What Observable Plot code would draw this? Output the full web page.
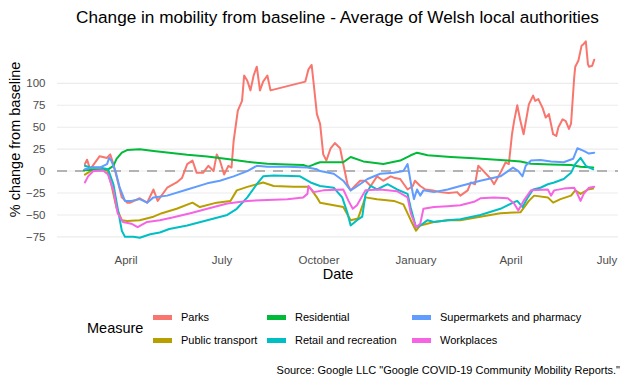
<!DOCTYPE html>
<html>
<head>
<meta charset="utf-8">
<script src="https://cdn.jsdelivr.net/npm/d3@7"></script>
<script src="https://cdn.jsdelivr.net/npm/@observablehq/plot@0.6"></script>
<style>
  html, body { margin: 0; padding: 0; background: #fff; }
  body { font-family: "Liberation Sans", Arial, sans-serif; }
  #wrap { position: relative; width: 626px; height: 384px; overflow: hidden; }
  .abs { position: absolute; white-space: nowrap; }
  #title { left: 57px; width: 561px; top: 8px; text-align: center; font-size: 17.2px; line-height: 18px; color: #000; }
  #chart { left: 0; top: 30px; }
  .lgtitle { font-size: 14.5px; line-height: 16px; color: #000; }
  .lglab { font-size: 11px; line-height: 12px; color: #000; }
  .sw { position: absolute; width: 19px; height: 5px; }
  #caption { right: 6px; top: 364px; font-size: 11px; line-height: 12px; color: #000; }
</style>
</head>
<body>
<div id="wrap">
  <div id="title" class="abs">Change in mobility from baseline - Average of Welsh local authorities</div>
  <div id="chart" class="abs"></div>
  <div id="legend"></div>
  <div id="caption" class="abs">Source: Google LLC "Google COVID-19 Community Mobility Reports."</div>
</div>
<script>
const measures = ["Parks", "Public transport", "Residential", "Retail and recreation", "Supermarkets and pharmacy", "Workplaces"];
const colors = ["#F8766D", "#B79F00", "#00BA38", "#00BFC4", "#619CFF", "#F564E3"];
const yTicks = [-75, -50, -25, 0, 25, 50, 75, 100];
const xTicks = ["2020-04-01", "2020-07-01", "2020-10-01", "2021-01-01", "2021-04-01", "2021-07-01"];

const parks = [["2020-02-22",8],["2020-02-24",13],["2020-02-27",2],["2020-03-07",17],["2020-03-14",15],["2020-03-17",19],["2020-03-20",8],["2020-03-24",-11],["2020-03-28",-30],["2020-04-02",-36],["2020-04-05",-36],["2020-04-14",-31],["2020-04-21",-36],["2020-04-27",-21],["2020-05-01",-34],["2020-05-10",-19],["2020-05-19",-13],["2020-05-24",-8],["2020-05-29",8],["2020-06-03",12],["2020-06-07",-2],["2020-06-13",-2],["2020-06-18",6],["2020-06-23",0],["2020-06-26",19],["2020-06-29",12],["2020-07-03",-4],["2020-07-07",6],["2020-07-10",4],["2020-07-12",34],["2020-07-16",69],["2020-07-20",80],["2020-07-22",109],["2020-07-25",103],["2020-07-28",92],["2020-07-31",109],["2020-08-03",119],["2020-08-06",92],["2020-08-09",102],["2020-08-13",109],["2020-08-16",92],["2020-09-18",102],["2020-09-21",116],["2020-09-24",121],["2020-09-26",99],["2020-09-29",65],["2020-10-02",54],["2020-10-05",19],["2020-10-08",12],["2020-10-12",26],["2020-10-16",32],["2020-10-21",26],["2020-10-24",8],["2020-10-28",-15],["2020-10-31",-22],["2020-11-04",-17],["2020-11-09",-11],["2020-11-14",-11],["2020-11-19",-17],["2020-11-25",-6],["2020-12-01",-11],["2020-12-08",-6],["2020-12-12",-8],["2020-12-17",-9],["2020-12-24",-21],["2020-12-29",-17],["2020-12-31",-11],["2021-01-05",-17],["2021-01-10",-21],["2021-01-17",-22],["2021-01-24",-24],["2021-02-01",-25],["2021-02-09",-24],["2021-02-12",-28],["2021-02-19",-22],["2021-02-22",-13],["2021-02-26",-15],["2021-03-01",6],["2021-03-06",0],["2021-03-13",-9],["2021-03-16",-15],["2021-03-22",-2],["2021-03-27",10],["2021-03-30",8],["2021-04-02",42],["2021-04-04",57],["2021-04-07",75],["2021-04-10",57],["2021-04-13",42],["2021-04-18",76],["2021-04-22",86],["2021-04-24",80],["2021-04-27",82],["2021-05-01",72],["2021-05-04",61],["2021-05-07",65],["2021-05-11",42],["2021-05-14",40],["2021-05-16",50],["2021-05-20",59],["2021-05-23",57],["2021-05-26",48],["2021-05-28",54],["2021-05-31",107],["2021-06-01",119],["2021-06-04",126],["2021-06-07",143],["2021-06-09",145],["2021-06-11",148],["2021-06-13",122],["2021-06-14",119],["2021-06-17",120],["2021-06-19",127]];

const publicTransport = [["2020-02-22",-4],["2020-03-01",2],["2020-03-14",1],["2020-03-18",-15],["2020-03-23",-42],["2020-03-28",-56],["2020-04-02",-57],["2020-04-14",-56],["2020-04-27",-52],["2020-05-05",-48],["2020-05-19",-43],["2020-06-03",-36],["2020-06-10",-41],["2020-06-26",-36],["2020-07-09",-34],["2020-07-15",-22],["2020-07-25",-18],["2020-08-03",-15],["2020-08-09",-13],["2020-08-19",-17],["2020-09-07",-18],["2020-09-20",-18],["2020-09-23",-20],["2020-09-29",-30],["2020-10-02",-36],["2020-10-15",-39],["2020-10-24",-41],["2020-10-31",-56],["2020-11-07",-54],["2020-11-14",-30],["2020-11-25",-32],["2020-12-11",-34],["2020-12-20",-38],["2020-12-27",-56],["2021-01-01",-68],["2021-01-05",-62],["2021-01-18",-58],["2021-01-31",-56],["2021-02-12",-56],["2021-03-03",-52],["2021-03-22",-48],["2021-04-10",-47],["2021-04-18",-34],["2021-04-23",-28],["2021-05-06",-30],["2021-05-11",-36],["2021-05-18",-32],["2021-05-28",-28],["2021-06-01",-22],["2021-06-06",-26],["2021-06-13",-21],["2021-06-18",-20]];

const residential = [["2020-02-21",1],["2020-03-15",2],["2020-03-20",6],["2020-03-23",14],["2020-03-28",21],["2020-04-02",24],["2020-04-14",25],["2020-04-27",23],["2020-05-12",21],["2020-05-29",18.6],["2020-06-17",16.7],["2020-07-06",13.7],["2020-07-25",10.6],["2020-08-13",8.3],["2020-09-01",7.6],["2020-09-16",7],["2020-09-21",5],["2020-09-27",8],["2020-10-02",10],["2020-10-24",10],["2020-10-31",16],["2020-11-12",11],["2020-12-01",8],["2020-12-17",12],["2020-12-27",18],["2021-01-02",21],["2021-01-12",18],["2021-02-03",16],["2021-02-25",14.5],["2021-03-29",12],["2021-04-10",11],["2021-04-20",8.3],["2021-05-09",7.6],["2021-05-28",7],["2021-06-06",5],["2021-06-18",4]];

const retail = [["2020-02-22",6],["2020-02-27",4],["2020-03-07",4],["2020-03-15",2],["2020-03-20",-15],["2020-03-24",-42],["2020-03-28",-68],["2020-03-31",-75],["2020-04-08",-75],["2020-04-14",-76],["2020-04-24",-72],["2020-05-03",-70],["2020-05-12",-66],["2020-05-29",-62],["2020-06-17",-56],["2020-07-06",-50],["2020-07-15",-43],["2020-07-25",-30],["2020-08-03",-15],["2020-08-09",-6],["2020-08-19",-5],["2020-09-13",-6],["2020-09-23",-13],["2020-10-02",-17],["2020-10-15",-19],["2020-10-23",-30],["2020-10-28",-48],["2020-10-31",-62],["2020-11-06",-56],["2020-11-11",-52],["2020-11-14",-27],["2020-11-19",-17],["2020-11-25",-21],["2020-12-05",-15],["2020-12-14",-21],["2020-12-24",-26],["2020-12-27",-42],["2021-01-01",-64],["2021-01-05",-62],["2021-01-12",-56],["2021-01-18",-58],["2021-01-31",-56],["2021-02-12",-55],["2021-03-03",-50],["2021-03-22",-43],["2021-04-03",-36],["2021-04-07",-34],["2021-04-12",-41],["2021-04-17",-30],["2021-04-22",-21],["2021-04-29",-19],["2021-05-06",-15],["2021-05-12",-13],["2021-05-21",-9],["2021-05-28",-2],["2021-06-01",8],["2021-06-06",15],["2021-06-11",6],["2021-06-18",2]];

const supermarkets = [["2020-02-22",2],["2020-03-01",4],["2020-03-07",4],["2020-03-14",8],["2020-03-16",15],["2020-03-18",12],["2020-03-22",0],["2020-03-26",-19],["2020-03-31",-34],["2020-04-06",-34],["2020-04-14",-32],["2020-04-21",-36],["2020-04-27",-30],["2020-05-10",-28],["2020-05-29",-21],["2020-06-17",-14],["2020-06-29",-11],["2020-07-12",-6],["2020-07-25",0],["2020-08-03",6],["2020-08-13",5],["2020-09-01",5],["2020-09-20",4],["2020-09-29",2],["2020-10-02",0],["2020-10-15",-3],["2020-10-24",-11],["2020-10-31",-22],["2020-11-04",-19],["2020-11-16",-9],["2020-11-28",-3],["2020-12-11",-2],["2020-12-20",0],["2020-12-24",8],["2020-12-27",-13],["2020-12-30",-32],["2021-01-02",-21],["2021-01-05",-28],["2021-01-08",-22],["2021-01-18",-24],["2021-01-31",-21],["2021-02-12",-17],["2021-03-03",-11],["2021-03-22",-6],["2021-04-03",4],["2021-04-08",0],["2021-04-12",-6],["2021-04-15",6],["2021-04-20",12],["2021-04-29",12.6],["2021-05-09",11],["2021-05-21",10],["2021-05-30",14],["2021-06-03",26],["2021-06-09",23],["2021-06-14",20],["2021-06-19",21]];

const workplaces = [["2020-02-22",-13],["2020-02-25",-6],["2020-03-01",0],["2020-03-10",1],["2020-03-15",-4],["2020-03-20",-22],["2020-03-24",-48],["2020-03-29",-58],["2020-04-06",-60],["2020-04-12",-64],["2020-04-21",-58],["2020-05-03",-56],["2020-05-15",-53],["2020-06-01",-48],["2020-06-17",-43],["2020-07-06",-37],["2020-07-25",-34],["2020-08-13",-33],["2020-09-01",-32],["2020-09-16",-30],["2020-09-20",-26],["2020-09-21",-17],["2020-09-26",-24],["2020-10-05",-22],["2020-10-24",-21],["2020-10-29",-34],["2020-11-02",-43],["2020-11-06",-39],["2020-11-14",-22],["2020-11-28",-21],["2020-12-14",-23],["2020-12-24",-30],["2020-12-27",-48],["2021-01-01",-64],["2021-01-05",-60],["2021-01-08",-43],["2021-01-18",-41],["2021-01-31",-40],["2021-02-12",-39],["2021-02-25",-35],["2021-03-03",-31],["2021-03-16",-30],["2021-03-29",-31],["2021-04-04",-37],["2021-04-08",-45],["2021-04-13",-34],["2021-04-20",-22],["2021-05-06",-21],["2021-05-09",-28],["2021-05-12",-22],["2021-05-21",-20],["2021-05-31",-19],["2021-06-03",-26],["2021-06-06",-34],["2021-06-09",-26],["2021-06-14",-19],["2021-06-19",-18]];

const seriesList = [parks, publicTransport, residential, retail, supermarkets, workplaces];
const rows = [];
seriesList.forEach((s, i) => s.forEach(([d, v]) => rows.push({date: new Date(d), value: v, measure: measures[i]})));

const chart = Plot.plot({
  width: 626,
  height: 255,
  marginLeft: 57,
  marginRight: 8,
  marginTop: 2,
  marginBottom: 39,
  style: {fontFamily: '"Liberation Sans", Arial, sans-serif', background: "white", overflow: "visible"},
  x: {type: "utc", domain: [new Date("2020-01-27"), new Date("2021-07-12")]},
  y: {domain: [-86, 158]},
  color: {domain: measures, range: colors},
  marks: [
    Plot.gridY(yTicks, {stroke: "#EBEBEB", strokeOpacity: 1, strokeWidth: 1.1}),
    Plot.ruleY([0], {stroke: "#B3B3B3", strokeWidth: 2, strokeDasharray: "10,8"}),
    Plot.line(rows, {x: "date", y: "value", z: "measure", stroke: "measure", strokeWidth: 2, strokeLinejoin: "round"}),
    Plot.axisX(xTicks.map(d => new Date(d)), {tickSize: 0, tickPadding: 9, tickFormat: d3.utcFormat("%B"), fontSize: 11.5, color: "#4D4D4D", label: null}),
    Plot.axisY(yTicks, {tickSize: 0, tickPadding: 12, fontSize: 11.5, color: "#4D4D4D", label: null}),
    Plot.text(["% change from baseline"], {text: d => d, frameAnchor: "left", dx: -42, rotate: -90, textAnchor: "middle", lineAnchor: "middle", fontSize: 14.5, fill: "#000"}),
    Plot.text(["Date"], {text: d => d, frameAnchor: "bottom", dy: 28, textAnchor: "middle", lineAnchor: "middle", fontSize: 14.5, fill: "#000"})
  ]
});
document.getElementById("chart").appendChild(chart);

// legend
const legend = document.getElementById("legend");
const t = document.createElement("div");
t.className = "abs lgtitle";
t.style.left = "87px"; t.style.top = "320px";
t.textContent = "Measure";
legend.appendChild(t);
const colX = [153, 267, 412];
const rowY = [317, 340];
measures.forEach((m, i) => {
  const col = Math.floor(i / 2), row = i % 2;
  const sw = document.createElement("div");
  sw.className = "sw";
  sw.style.left = colX[col] + "px";
  sw.style.top = (rowY[row] - 2.5) + "px";
  sw.style.background = colors[i];
  legend.appendChild(sw);
  const lab = document.createElement("div");
  lab.className = "abs lglab";
  lab.style.left = (colX[col] + 28) + "px";
  lab.style.top = (rowY[row] - 6) + "px";
  lab.textContent = m;
  legend.appendChild(lab);
});
</script>
</body>
</html>
